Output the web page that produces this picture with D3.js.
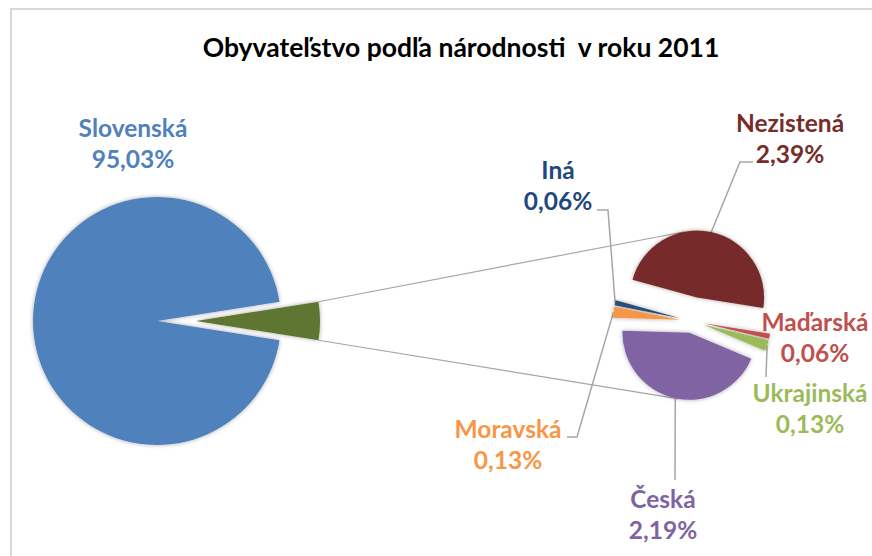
<!DOCTYPE html>
<html><head><meta charset="utf-8">
<script src="https://cdn.jsdelivr.net/npm/d3@7"></script>
<style>
body{margin:0;background:#fff;}
svg{display:block}
text{font-family:Lato,"Open Sans",sans-serif;font-weight:700;white-space:pre;}
</style>
</head><body>
<svg id="c" width="872" height="556"></svg>
<script>
// ---- data ----
const chartTitle = "Obyvateľstvo podľa národnosti  v roku 2011";
const mainCategories = ["Ostatné", "Slovenská"];
const mainValues = [4.97, 95.03];
const mainLabels = ["", "95,03%"];
const subCategories = ["Nezistená", "Maďarská", "Ukrajinská", "Česká", "Moravská", "Iná"];
const subValues = [2.39, 0.06, 0.13, 2.19, 0.13, 0.06];
const subLabels = ["2,39%", "0,06%", "0,13%", "2,19%", "0,13%", "0,06%"];

// ---- style / layout ----
const mainColors = ["#5F7530", "#4F81BD"];
const subColors = ["#772C2A", "#C0504D", "#9BBB59", "#8064A2", "#F79646", "#2C4D75"];
const subTextColors = ["#772C2A", "#C0504D", "#9BBB59", "#8064A2", "#F79646", "#1F497D"];
const mainTextColor = "#4F81BD";
const mainC = [157, 321], mainR = 124, mainExplode = [39, 0];
const subC = [692, 321], subR = 67, subExplode = [24, 12, 12, 12, 12, 12];
const subStart = -74.5 * Math.PI / 180;
const fontSize = 24.5;
// label placement: center x, baseline of first line, optional leader elbow & end
const mainLabelPos = [null, {x: 133, y: 137}];
const subLabelPos = [
  {x: 790, y: 132, elbow: [740, 162], end: [753, 162]},
  {x: 815, y: 331},
  {x: 810, y: 402, elbow: null, end: [766, 377]},
  {x: 663, y: 508, elbow: null, end: [675, 480]},
  {x: 508, y: 438, elbow: [577, 437], end: [567, 437]},
  {x: 558, y: 179, elbow: [608, 210], end: [597, 210]}
];

const svg = d3.select("#c");
svg.append("rect").attr("width", 872).attr("height", 556).attr("fill", "#fff");
svg.append("path").attr("d", "M11,560 V9 H880").attr("fill", "none")
  .attr("stroke", "#D9D9D9").attr("stroke-width", 2);

const defs = svg.append("defs");
const f = defs.append("filter").attr("id", "sh").attr("x", "-30%").attr("y", "-30%")
  .attr("width", "160%").attr("height", "160%");
f.append("feDropShadow").attr("dx", 0).attr("dy", 0).attr("stdDeviation", 2.2)
  .attr("flood-color", "#000").attr("flood-opacity", 0.35);

svg.append("text").attr("x", 461).attr("y", 57).attr("text-anchor", "middle")
  .attr("font-size", 26.5).attr("fill", "#000").text(chartTitle);

const off = (d, e) => {
  const m = (d.startAngle + d.endAngle) / 2;
  return [e * Math.sin(m), -e * Math.cos(m)];
};
const polar = (c, r, a) => [c[0] + r * Math.sin(a), c[1] - r * Math.cos(a)];

// main pie
const mainSpan = 2 * Math.PI * mainValues[0] / d3.sum(mainValues);
const mainPie = d3.pie().sort(null)
  .startAngle(Math.PI / 2 - mainSpan / 2).endAngle(Math.PI / 2 - mainSpan / 2 + 2 * Math.PI);
const mainArcs = mainPie(mainValues);
const arcMain = d3.arc().innerRadius(0).outerRadius(mainR);

// sub pie
const subPie = d3.pie().sort(null).startAngle(subStart).endAngle(subStart + 2 * Math.PI);
const subArcs = subPie(subValues);
const arcSub = d3.arc().innerRadius(0).outerRadius(subR);

// connector lines (tangents from exploded slice corners to second pie)
const o0 = off(mainArcs[0], mainExplode[0]);
const tipMain = [mainC[0] + o0[0], mainC[1] + o0[1]];
const pTop = polar(tipMain, mainR, mainArcs[0].startAngle);
const pBot = polar(tipMain, mainR, mainArcs[0].endAngle);
function tangent(P, C, r, sign) {
  const dx = C[0] - P[0], dy = C[1] - P[1];
  const d = Math.hypot(dx, dy);
  const phi = Math.atan2(dy, dx), al = Math.asin(r / d);
  const L = Math.sqrt(d * d - r * r);
  const a = phi + sign * al;
  return [P[0] + L * Math.cos(a), P[1] + L * Math.sin(a)];
}
const cTopSlice = (() => { const o = off(subArcs[0], subExplode[0]); return [subC[0] + o[0], subC[1] + o[1]]; })();
const cBotSlice = (() => { const o = off(subArcs[3], subExplode[3]); return [subC[0] + o[0], subC[1] + o[1]]; })();
const tTop = tangent(pTop, cTopSlice, subR, -1);
const tBot = tangent(pBot, cBotSlice, subR, 1);
svg.append("g").selectAll("line").data([[pTop, tTop], [pBot, tBot]]).join("line")
  .attr("x1", d => d[0][0]).attr("y1", d => d[0][1])
  .attr("x2", d => d[1][0]).attr("y2", d => d[1][1])
  .attr("stroke", "#A6A6A6").attr("stroke-width", 1.2);

// leader lines
const lg = svg.append("g");
subArcs.forEach((d, i) => {
  const p = subLabelPos[i];
  if (!p.end) return;
  const o = off(d, subExplode[i]);
  const c = [subC[0] + o[0], subC[1] + o[1]];
  const m = (d.startAngle + d.endAngle) / 2;
  const s = polar(c, subR, m);
  const pts = [s];
  if (p.elbow) pts.push(p.elbow);
  pts.push(p.end);
  lg.append("path").attr("d", d3.line()(pts)).attr("fill", "none")
    .attr("stroke", "#A6A6A6").attr("stroke-width", 1.5);
});

// slices
const g1 = svg.append("g").attr("filter", "url(#sh)");
g1.selectAll("path").data(mainArcs).join("path")
  .attr("d", arcMain)
  .attr("transform", (d, i) => { const o = off(d, mainExplode[i]); return `translate(${mainC[0] + o[0]},${mainC[1] + o[1]})`; })
  .attr("fill", (d, i) => mainColors[i]);
const g2 = svg.append("g").attr("filter", "url(#sh)");
g2.selectAll("path").data(subArcs).join("path")
  .attr("d", arcSub)
  .attr("transform", (d, i) => { const o = off(d, subExplode[i]); return `translate(${subC[0] + o[0]},${subC[1] + o[1]})`; })
  .attr("fill", (d, i) => subColors[i]);

// labels
function label(pos, lines, color) {
  const t = svg.append("text").attr("text-anchor", "middle").attr("font-size", fontSize).attr("fill", color);
  lines.forEach((s, k) => t.append("tspan").attr("x", pos.x).attr("y", pos.y + k * 31).text(s));
}
mainCategories.forEach((c, i) => { if (mainLabelPos[i]) label(mainLabelPos[i], [c, mainLabels[i]], mainTextColor); });
subCategories.forEach((c, i) => label(subLabelPos[i], [c, subLabels[i]], subTextColors[i]));
</script>
</body></html>
